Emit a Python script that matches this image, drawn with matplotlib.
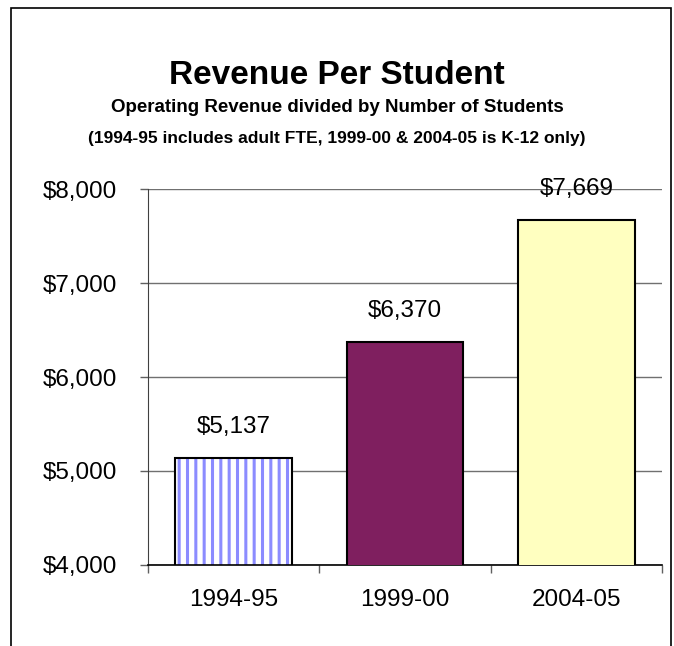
import numpy as np
import matplotlib.pyplot as plt
from matplotlib.patches import Rectangle
from matplotlib.ticker import FuncFormatter

plt.rcParams['font.family'] = ['Liberation Sans', 'DejaVu Sans']
plt.rcParams['hatch.linewidth'] = 2.2

# data
years = ['1994-95', '1999-00', '2004-05']
revenue = [5137, 6370, 7669]
bar_colors = ['white', '#7F1F5F', '#FFFFC0']

fig = plt.figure(figsize=(6.74, 6.46), dpi=100)
ax = fig.add_axes([148/674, 81/646, 514/674, 376/646])

x = np.arange(len(years))
w = 0.68
bars = ax.bar(x, revenue, width=w, color=bar_colors, edgecolor='black', linewidth=1.5, zorder=3)

# striped first bar: hatch layer under the black outline
ax.bar(x[0], revenue[0], width=w, color='white', edgecolor='#8C8CFF', hatch='||', linewidth=0, zorder=2.5)
bars[0].set_facecolor('none')

for xi, v in zip(x, revenue):
    ax.annotate('${:,}'.format(v), (xi, v), xytext=(0, 18), textcoords='offset points',
                ha='center', va='baseline', fontsize=17.5)

ax.set_ylim(4000, 8000)
ax.set_xlim(-0.5, 2.5)
ax.set_yticks([4000, 5000, 6000, 7000, 8000])
ax.yaxis.set_major_formatter(FuncFormatter(lambda v, p: '${:,.0f}'.format(v)))
ax.grid(axis='y', color='#707070', linewidth=1, zorder=0)
ax.set_axisbelow(True)

ax.set_xticks(x)
ax.set_xticklabels(years)
ax.set_xticks([-0.5, 0.5, 1.5, 2.5], minor=True)
ax.tick_params(axis='x', which='major', length=0, pad=17, labelsize=17.5)
ax.tick_params(axis='x', which='minor', length=6, width=1, color='#606060')
ax.tick_params(axis='y', length=6, width=1, color='#606060', pad=16, labelsize=17.5)

for s in ['top', 'right']:
    ax.spines[s].set_visible(False)
ax.spines['left'].set_color('#404040')
ax.spines['bottom'].set_color('black')
ax.spines['bottom'].set_linewidth(1.2)

fig.text(0.5, 1 - 84/646, 'Revenue Per Student', ha='center', va='baseline', fontsize=24, fontweight='bold')
fig.text(0.5, 1 - 112/646, 'Operating Revenue divided by Number of Students', ha='center', va='baseline',
         fontsize=13.5, fontweight='bold')
fig.text(0.5, 1 - 143/646, '(1994-95 includes adult FTE, 1999-00 & 2004-05 is K-12 only)', ha='center',
         va='baseline', fontsize=12.5, fontweight='bold')

# outer chart frame (bottom edge runs off the image)
fig.patches.append(Rectangle((11/674, -0.05), 660/674, 1.05 - 8/646, transform=fig.transFigure,
                             fill=False, edgecolor='black', linewidth=1.2))

fig.savefig('out.png', dpi=100)
